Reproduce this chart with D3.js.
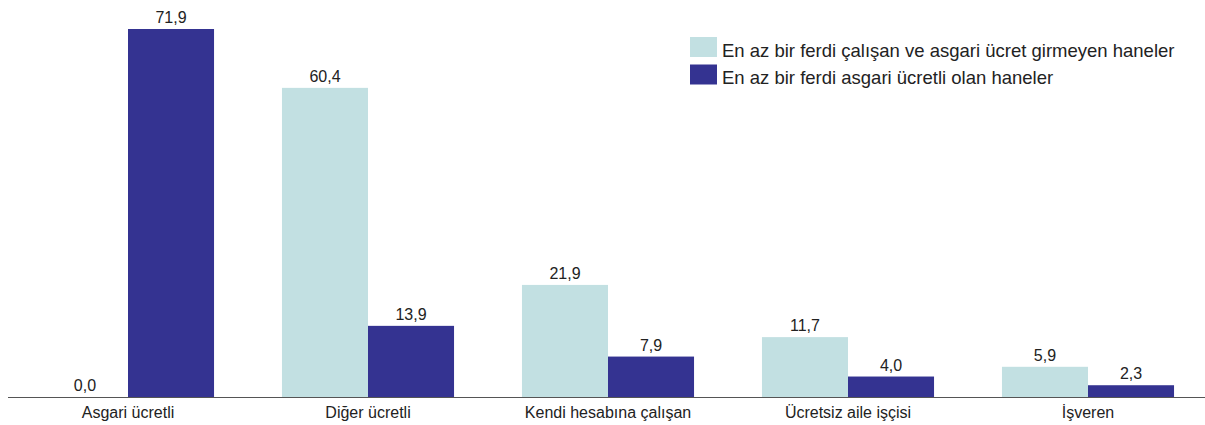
<!DOCTYPE html>
<html>
<head>
<meta charset="utf-8">
<script src="https://cdn.jsdelivr.net/npm/d3@7"></script>
<style>
  body { margin: 0; background: #fff; }
  svg { font-family: "Liberation Sans", Arial, sans-serif; }
</style>
</head>
<body>
<svg id="chart" width="1205" height="425"></svg>
<script>
const categories = ["Asgari ücretli", "Diğer ücretli", "Kendi hesabına çalışan", "Ücretsiz aile işçisi", "İşveren"];
const seriesNames = [
  "En az bir ferdi çalışan ve asgari ücret girmeyen haneler",
  "En az bir ferdi asgari ücretli olan haneler"
];
const noMinWage = [0.0, 60.4, 21.9, 11.7, 5.9];
const withMinWage = [71.9, 13.9, 7.9, 4.0, 2.3];
const colors = ["#c2e0e2", "#343391"];

const svg = d3.select("#chart");
const baseY = 397;

// Build rows for grouped bars
const rows = [];
categories.forEach((c, i) => {
  rows.push({ cat: c, key: 0, value: noMinWage[i] });
  rows.push({ cat: c, key: 1, value: withMinWage[i] });
});

// x scales
const x0 = d3.scaleBand()
  .domain(categories)
  .range([8, 1208])
  .paddingInner(0.283)
  .paddingOuter(0.1415);

const x1 = d3.scaleBand()
  .domain([0, 1])
  .range([0, x0.bandwidth()]);

// y scale
const y = d3.scaleLinear()
  .domain([0, 71.9])
  .range([baseY, 29]);

// Bars
svg.append("g")
  .selectAll("rect")
  .data(rows)
  .join("rect")
  .attr("x", d => x0(d.cat) + x1(d.key))
  .attr("y", d => y(d.value))
  .attr("width", x1.bandwidth())
  .attr("height", d => baseY - y(d.value))
  .style("fill", d => colors[d.key]);

// Value labels
svg.append("g")
  .selectAll("text")
  .data(rows)
  .join("text")
  .attr("x", d => x0(d.cat) + x1(d.key) + x1.bandwidth() / 2)
  .attr("y", d => y(d.value) - 6)
  .attr("text-anchor", "middle")
  .attr("font-size", "16px")
  .attr("fill", "#222")
  .text(d => d3.format(".1f")(d.value).replace(".", ","));

// x axis
const xAxis = svg.append("g")
  .attr("transform", `translate(0, ${baseY})`)
  .call(d3.axisBottom(x0).tickSize(0).tickPadding(10));
xAxis.select(".domain")
  .attr("d", "M8,0.5H1205")
  .attr("stroke", "#555");
xAxis.selectAll("text")
  .attr("font-size", "16px")
  .attr("font-family", "Liberation Sans, Arial, sans-serif")
  .attr("fill", "#222");

// Legend
const legend = svg.append("g").attr("transform", "translate(690, 37)");
seriesNames.forEach((name, i) => {
  const g = legend.append("g").attr("transform", `translate(0, ${i * 27.5})`);
  g.append("rect")
    .attr("width", 27)
    .attr("height", 20)
    .style("fill", colors[i]);
  g.append("text")
    .attr("x", 32)
    .attr("y", 19.5)
    .attr("font-size", "18.5px")
    .attr("fill", "#222")
    .text(name);
});
</script>
</body>
</html>
